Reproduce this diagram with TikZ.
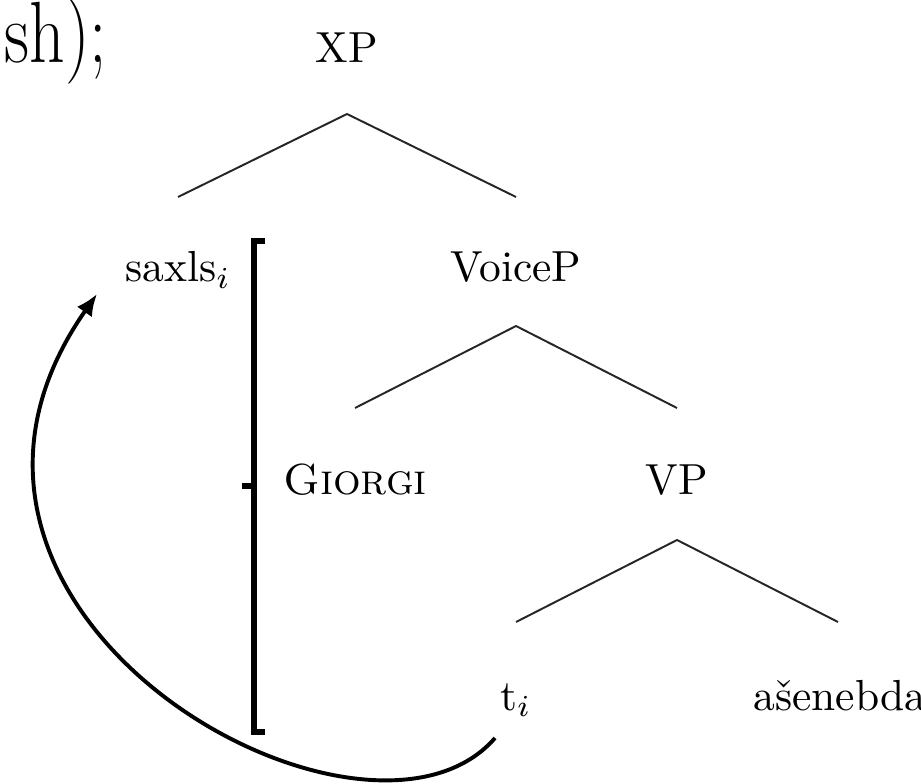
\documentclass[tikz,border=0pt]{standalone}
\usetikzlibrary{arrows.meta}
\begin{document}
\begin{tikzpicture}[x=0.23pt,y=-0.23pt,
  lab/.style={anchor=base,inner sep=0pt,font=\fontsize{10}{12}\selectfont},
  branch/.style={line width=0.45pt,color=black!85},
  brack/.style={line width=1.4pt,line cap=butt,line join=miter},
  move/.style={line width=0.9pt,-{Latex[length=5pt,width=4.2pt]}}]
\useasboundingbox (0,0) rectangle (921,783);
% partial text at top-left
\node[anchor=base east,inner sep=0pt,xscale=0.8,font=\fontsize{20}{24}\selectfont] (frag) at (108,63) {sh);};
% labels
\node[lab] (xp) at (347,63) {XP};
\node[lab] (saxls) at (178,282) {saxls$_i$};
\node[lab] (voicep) at (516,282) {VoiceP};
\node[lab] (giorgi) at (355,494) {\textsc{Giorgi}};
\node[lab] (vp) at (677,494) {VP};
\node[lab] (ti) at (516,710) {t$_i$};
\node[lab] (asen) at (840,710) {ašenebda};
% branch coordinates
\coordinate (a1) at (347,114); \coordinate (l1) at (178,197); \coordinate (r1) at (516,197);
\coordinate (a2) at (516,326); \coordinate (l2) at (355,408); \coordinate (r2) at (677,408);
\coordinate (a3) at (677,540); \coordinate (l3) at (516,622); \coordinate (r3) at (838,622);
\draw[branch] (l1) -- (a1) -- (r1);
\draw[branch] (l2) -- (a2) -- (r2);
\draw[branch] (l3) -- (a3) -- (r3);
% bracket
\coordinate (bt) at (265,241); \coordinate (btc) at (254,241);
\coordinate (bbc) at (254,732); \coordinate (bb) at (265,732);
\coordinate (bm) at (254,486); \coordinate (bmt) at (242,486);
\draw[brack] (bt) -- (btc) -- (bbc) -- (bb);
\draw[brack] (bm) -- (bmt);
% movement arrow
\coordinate (mvs) at (495,738);
\coordinate (mve) at (97,294);
\draw[move] (mvs) .. controls (365,888) and (-128,615) .. (mve);
\end{tikzpicture}
\end{document}
